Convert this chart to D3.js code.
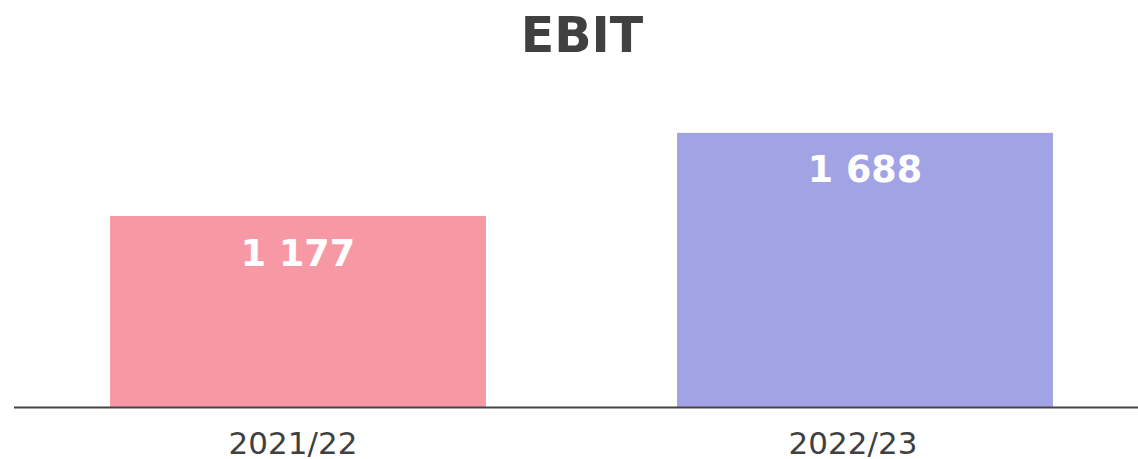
<!DOCTYPE html>
<html>
<head>
<meta charset="utf-8">
<script src="https://cdn.jsdelivr.net/npm/d3@7"></script>
<style>
  body { margin: 0; background: #fff; }
  svg { display: block; font-family: "DejaVu Sans", Verdana, sans-serif; }
</style>
</head>
<body>
<svg id="chart"></svg>
<script>
const periods = ["2021/22", "2022/23"];
const ebitValues = [1177, 1688];
const barColors = ["#f799a5", "#a2a3e5"];
const chartTitle = "EBIT";

const width = 1138, height = 459;
const baseY = 407.5;

const svg = d3.select("#chart")
    .attr("width", width)
    .attr("height", height);

// bars
const x = d3.scaleBand()
    .domain(periods)
    .range([14.5, 1148.5])
    .paddingInner(0.337)
    .paddingOuter(0.1685);

// labels under the axis sit slightly left of the bar centres
const xLabel = d3.scaleBand()
    .domain(periods)
    .range([13, 1133]);

const y = d3.scaleLinear()
    .domain([0, 1177])
    .range([baseY, 216]);

const data = periods.map((p, i) => ({ period: p, value: ebitValues[i], color: barColors[i] }));

svg.append("text")
    .attr("x", 582)
    .attr("y", 52)
    .attr("text-anchor", "middle")
    .style("font-size", "49px")
    .style("font-weight", "bold")
    .style("fill", "#404040")
    .text(chartTitle);

svg.selectAll("rect.bar")
    .data(data)
    .join("rect")
    .attr("class", "bar")
    .attr("x", d => x(d.period))
    .attr("width", x.bandwidth())
    .attr("y", d => y(d.value))
    .attr("height", d => baseY - y(d.value))
    .attr("fill", d => d.color);

const fmt = v => d3.format(",")(v).replace(/,/g, " ");

svg.selectAll("text.value")
    .data(data)
    .join("text")
    .attr("class", "value")
    .attr("x", d => x(d.period) + x.bandwidth() / 2)
    .attr("y", d => y(d.value) + 49.5)
    .attr("text-anchor", "middle")
    .style("font-size", "36.5px")
    .style("font-weight", "bold")
    .style("fill", "#ffffff")
    .text(d => fmt(d.value));

// x axis
const axis = svg.append("g")
    .attr("transform", `translate(0, ${baseY})`)
    .call(d3.axisBottom(xLabel).tickSize(0).tickPadding(10));

axis.select(".domain").remove();
axis.selectAll("text")
    .attr("dy", null)
    .attr("y", 46.5)
    .style("font-size", "31px")
    .style("font-family", "'DejaVu Sans', Verdana, sans-serif")
    .style("fill", "#404040");

svg.append("line")
    .attr("x1", 14)
    .attr("x2", width)
    .attr("y1", baseY)
    .attr("y2", baseY)
    .attr("stroke", "#444")
    .attr("stroke-width", 2);
</script>
</body>
</html>
